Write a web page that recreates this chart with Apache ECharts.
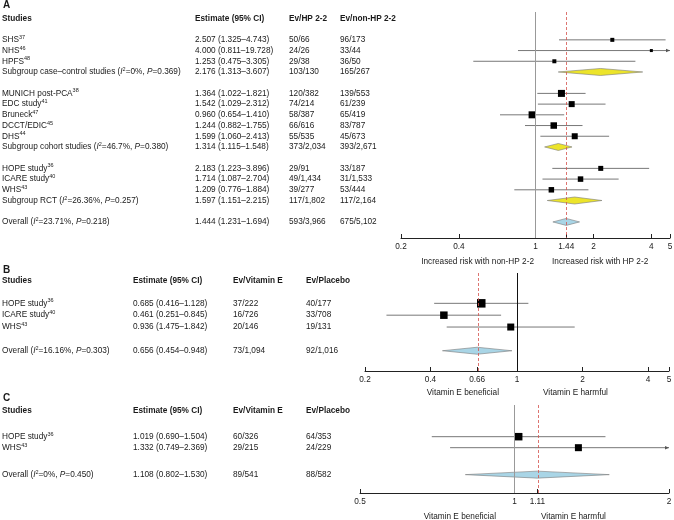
<!DOCTYPE html>
<html>
<head>
<meta charset="utf-8">
<script src="https://cdn.jsdelivr.net/npm/echarts@6/dist/echarts.min.js"></script>
<style>
  html, body { margin: 0; padding: 0; background: #fff; }
  #main { width: 674px; height: 520px; }
</style>
</head>
<body>
<div id="main"></div>
<script>
// ---------- 数据 A: HP 2-2 vs non-HP 2-2 ----------
var studiesA = ['SHS', 'NHS', 'HPFS', 'MUNICH post-PCA', 'EDC study', 'Bruneck', 'DCCT/EDIC', 'DHS', 'HOPE study', 'ICARE study', 'WHS'];
var refsA = ['37', '46', '48', '38', '41', '47', '45', '44', '36', '40', '43'];
var estA = [2.507, 4.000, 1.253, 1.364, 1.542, 0.960, 1.244, 1.599, 2.183, 1.714, 1.209];
var lowA = [1.325, 0.811, 0.475, 1.022, 1.029, 0.654, 0.882, 1.060, 1.223, 1.087, 0.776];
var highA = [4.743, 19.728, 3.305, 1.821, 2.312, 1.410, 1.755, 2.413, 3.896, 2.704, 1.884];
var evHpA = ['50/66', '24/26', '29/38', '120/382', '74/214', '58/387', '66/616', '55/535', '29/91', '49/1,434', '39/277'];
var evNonA = ['96/173', '33/44', '36/50', '139/553', '61/239', '65/419', '83/787', '45/673', '33/187', '31/1,533', '53/444'];
var groupsA = ['Subgroup case\u2013control studies', 'Subgroup cohort studies', 'Subgroup RCT', 'Overall'];
var groupI2A = ['0%', '46.7%', '26.36%', '23.71%'];
var groupPA = ['0.369', '0.380', '0.257', '0.218'];
var groupEstA = [2.176, 1.314, 1.597, 1.444];
var groupLowA = [1.313, 1.115, 1.151, 1.231];
var groupHighA = [3.607, 1.548, 2.215, 1.694];
var groupEvHpA = ['103/130', '373/2,034', '117/1,802', '593/3,966'];
var groupEvNonA = ['165/267', '393/2,671', '117/2,164', '675/5,102'];
var ticksA = [0.2, 0.4, 1, 1.444, 2, 4, 5];

// ---------- 数据 B: Vitamin E vs placebo (HP 2-2) ----------
var studiesB = ['HOPE study', 'ICARE study', 'WHS'];
var refsB = ['36', '40', '43'];
var estB = [0.685, 0.461, 0.936];
var lowB = [0.416, 0.251, 0.475];
var lowPrintedB = [0.416, 0.251, 1.475]; // 表格里印的数字（原图如此）
var highB = [1.128, 0.845, 1.842];
var evVitB = ['37/222', '16/726', '20/146'];
var evPlaB = ['40/177', '33/708', '19/131'];
var groupsB = ['Overall'];
var groupI2B = ['16.16%'];
var groupPB = ['0.303'];
var groupEstB = [0.656];
var groupLowB = [0.454];
var groupHighB = [0.948];
var groupEvVitB = ['73/1,094'];
var groupEvPlaB = ['92/1,016'];
var ticksB = [0.2, 0.4, 0.656, 1, 2, 4, 5];

// ---------- 数据 C: Vitamin E vs placebo (non-HP 2-2) ----------
var studiesC = ['HOPE study', 'WHS'];
var refsC = ['36', '43'];
var estC = [1.019, 1.332];
var lowC = [0.690, 0.749];
var highC = [1.504, 2.369];
var evVitC = ['60/326', '29/215'];
var evPlaC = ['64/353', '24/229'];
var groupsC = ['Overall'];
var groupI2C = ['0%'];
var groupPC = ['0.450'];
var groupEstC = [1.108];
var groupLowC = [0.802];
var groupHighC = [1.530];
var groupEvVitC = ['89/541'];
var groupEvPlaC = ['88/582'];
var ticksC = [0.5, 1, 1.108, 2];

// ---------- 样式 / 布局 ----------
var FONT = '"Liberation Sans", Arial, sans-serif';
var FS = 8.25;
var TXT = '#1a1a1a';
var boxSizeA = [4, 3, 4, 7, 6, 7, 6.5, 6, 5, 5.5, 5.5];
var boxSizeB = [8.5, 7.5, 7];
var boxSizeC = [7.5, 7];

var rich = {
  s: { fontSize: 5.5, fontFamily: FONT, fill: TXT, padding: [0, 0, 5, 0] },
  i: { fontSize: FS, fontFamily: FONT, fill: TXT, fontStyle: 'italic' }
};

var panels = [
  {
    letter: 'A', top: 12, height: 226, yMin: -2.6, yMax: 18.5, left: 401, right: 4,
    min: 0.2, max: 5, ticks: ticksA, refColor: '#999',
    rows: [0, 1, 2, 5, 6, 7, 8, 9, 12, 13, 14], groupRows: [3, 10, 15, 17],
    headRow: -2, letterRow: -3.2, cols: [2, 195, 289, 340],
    heads: ['Studies', 'Estimate (95% CI)', 'Ev/HP 2-2', 'Ev/non-HP 2-2'],
    names: studiesA, refs: refsA, est: estA, low: lowA, lowText: lowA, high: highA, ev1: evHpA, ev2: evNonA, box: boxSizeA,
    gNames: groupsA, gI2: groupI2A, gP: groupPA, gEst: groupEstA, gLow: groupLowA, gHigh: groupHighA, gEv1: groupEvHpA, gEv2: groupEvNonA,
    subs: [['Increased risk with non-HP 2-2', 534, 262, 'right'], ['Increased risk with HP 2-2', 552, 262, 'left']]
  },
  {
    letter: 'B', top: 273, height: 98, yMin: -2.56, yMax: 5.71, left: 365, right: 5,
    min: 0.2, max: 5, ticks: ticksB, refColor: '#111',
    rows: [0, 1, 2], groupRows: [4],
    headRow: -1.89, letterRow: -2.75, cols: [2, 133, 233, 306],
    heads: ['Studies', 'Estimate (95% CI)', 'Ev/Vitamin E', 'Ev/Placebo'],
    names: studiesB, refs: refsB, est: estB, low: lowB, lowText: lowPrintedB, high: highB, ev1: evVitB, ev2: evPlaB, box: boxSizeB,
    gNames: groupsB, gI2: groupI2B, gP: groupPB, gEst: groupEstB, gLow: groupLowB, gHigh: groupHighB, gEv1: groupEvVitB, gEv2: groupEvPlaB,
    subs: [['Vitamin E beneficial', 499, 393, 'right'], ['Vitamin E harmful', 543, 393, 'left']]
  },
  {
    letter: 'C', top: 405, height: 88, yMin: -2.88, yMax: 5.12, left: 360, right: 5,
    min: 0.5, max: 2, ticks: ticksC, refColor: '#999',
    rows: [0, 1], groupRows: [3.45],
    headRow: -2.4, letterRow: -3.5, cols: [2, 133, 233, 306],
    heads: ['Studies', 'Estimate (95% CI)', 'Ev/Vitamin E', 'Ev/Placebo'],
    names: studiesC, refs: refsC, est: estC, low: lowC, lowText: lowC, high: highC, ev1: evVitC, ev2: evPlaC, box: boxSizeC,
    gNames: groupsC, gI2: groupI2C, gP: groupPC, gEst: groupEstC, gLow: groupLowC, gHigh: groupHighC, gEv1: groupEvVitC, gEv2: groupEvPlaC,
    subs: [['Vitamin E beneficial', 496, 517, 'right'], ['Vitamin E harmful', 541, 517, 'left']]
  }
];

function f3(v) { return v.toFixed(3); }
function ciText(e, l, h) { return f3(e) + ' (' + f3(l) + '\u2013' + f3(h) + ')'; }

// 文字表格（自定义系列画文字）
function textSeries(gridIdx, items) {
  return {
    type: 'custom',
    xAxisIndex: gridIdx, yAxisIndex: gridIdx,
    silent: true,
    data: items.map(function (d) { return [d.x, d.row]; }),
    renderItem: function (params, api) {
      var it = items[params.dataIndex];
      var p = api.coord([api.value(0), api.value(1)]);
      return {
        type: 'text', x: p[0], y: p[1],
        style: {
          text: it.text, fontSize: it.size || FS, fontFamily: FONT,
          fontWeight: it.bold ? 'bold' : 'normal', fill: TXT,
          align: 'left', verticalAlign: 'middle', rich: rich
        }
      };
    }
  };
}

var grids = [], xAxes = [], yAxes = [], series = [], graphics = [];

panels.forEach(function (pn, k) {
  var tIdx = k * 2, pIdx = k * 2 + 1;
  // 表格网格
  grids.push({ left: 0, right: 0, top: pn.top, height: pn.height, outerBoundsMode: 'none' });
  xAxes.push({ gridIndex: tIdx, type: 'value', min: 0, max: 674, show: false });
  yAxes.push({ gridIndex: tIdx, type: 'value', min: pn.yMin, max: pn.yMax, inverse: true, show: false });
  // 森林图网格
  grids.push({ left: pn.left, right: pn.right, top: pn.top, height: pn.height, outerBoundsMode: 'none' });
  xAxes.push({
    gridIndex: pIdx, type: 'log', min: pn.min, max: pn.max, position: 'bottom',
    axisLine: { show: true, onZero: false, lineStyle: { color: '#222', width: 1 } },
    axisTick: { show: true, inside: true, length: 4, customValues: pn.ticks, lineStyle: { color: '#222' } },
    axisLabel: {
      customValues: pn.ticks, margin: 5, color: TXT, fontSize: FS, fontFamily: FONT,
      formatter: function (v) { return String(Number((+v).toFixed(2))); }
    },
    splitLine: { show: false }, minorTick: { show: false }
  });
  yAxes.push({ gridIndex: pIdx, type: 'value', min: pn.yMin, max: pn.yMax, inverse: true, show: false });

  // 文字
  var items = [];
  items.push({ x: 3, row: pn.letterRow, text: pn.letter, bold: true, size: 10 });
  pn.heads.forEach(function (h, j) { items.push({ x: pn.cols[j], row: pn.headRow, text: h, bold: true }); });
  pn.names.forEach(function (n, i) {
    var r = pn.rows[i];
    items.push({ x: pn.cols[0], row: r, text: n + '{s|' + pn.refs[i] + '}' });
    items.push({ x: pn.cols[1], row: r, text: ciText(pn.est[i], pn.lowText[i], pn.high[i]) });
    items.push({ x: pn.cols[2], row: r, text: pn.ev1[i] });
    items.push({ x: pn.cols[3], row: r, text: pn.ev2[i] });
  });
  pn.gNames.forEach(function (n, i) {
    var r = pn.groupRows[i];
    items.push({ x: pn.cols[0], row: r, text: n + ' ({i|I}{s|2}=' + pn.gI2[i] + ', {i|P}=' + pn.gP[i] + ')' });
    items.push({ x: pn.cols[1], row: r, text: ciText(pn.gEst[i], pn.gLow[i], pn.gHigh[i]) });
    items.push({ x: pn.cols[2], row: r, text: pn.gEv1[i] });
    items.push({ x: pn.cols[3], row: r, text: pn.gEv2[i] });
  });
  series.push(textSeries(tIdx, items));

  // 汇总菱形 + 参考线
  var overallIdx = pn.gNames.length - 1;
  series.push({
    type: 'custom', xAxisIndex: pIdx, yAxisIndex: pIdx, silent: true,
    data: pn.gNames.map(function (n, i) { return [pn.gEst[i], pn.groupRows[i], pn.gLow[i], pn.gHigh[i], i === overallIdx ? 1 : 0]; }),
    renderItem: function (params, api) {
      var row = api.value(1);
      var pE = api.coord([api.value(0), row]);
      var pL = api.coord([api.value(2), row]);
      var pH = api.coord([api.value(3), row]);
      var h = 3.5;
      return {
        type: 'polygon',
        shape: { points: [[pL[0], pE[1]], [pE[0], pE[1] - h], [pH[0], pE[1]], [pE[0], pE[1] + h]] },
        style: { fill: api.value(4) ? '#a9d5e6' : '#ece42a', stroke: '#7a7a7a', lineWidth: 0.6 }
      };
    },
    markLine: {
      silent: true, symbol: ['none', 'none'], label: { show: false },
      data: [
        { xAxis: 1, lineStyle: { color: pn.refColor, type: 'solid', width: 1 } },
        { xAxis: pn.gEst[overallIdx], lineStyle: { color: '#d4524c', type: [3, 2], width: 0.8 } }
      ]
    }
  });

  // 各研究：置信区间线 + 方块
  series.push({
    type: 'custom', xAxisIndex: pIdx, yAxisIndex: pIdx, silent: true,
    data: pn.names.map(function (n, i) { return [pn.est[i], pn.rows[i], pn.low[i], pn.high[i], pn.box[i]]; }),
    renderItem: function (params, api) {
      var est = api.value(0), row = api.value(1), lo = api.value(2), hi = api.value(3), sz = api.value(4);
      var pL = api.coord([Math.max(lo, pn.min), row]);
      var pH = api.coord([Math.min(hi, pn.max), row]);
      var pE = api.coord([est, row]);
      var kids = [{
        type: 'line', shape: { x1: pL[0], y1: pL[1], x2: pH[0], y2: pH[1] },
        style: { stroke: '#555', lineWidth: 0.8 }
      }];
      if (hi > pn.max) {
        kids.push({
          type: 'polygon',
          shape: { points: [[pH[0], pH[1]], [pH[0] - 4, pH[1] - 1.8], [pH[0] - 4, pH[1] + 1.8]] },
          style: { fill: '#555' }
        });
      }
      kids.push({
        type: 'rect', shape: { x: pE[0] - sz / 2, y: pE[1] - sz / 2, width: sz, height: sz },
        style: { fill: '#000' }
      });
      return { type: 'group', children: kids };
    }
  });

  // 轴下方说明
  pn.subs.forEach(function (s) {
    graphics.push({
      type: 'text', x: s[1], y: s[2], silent: true,
      style: { text: s[0], align: s[3], verticalAlign: 'middle', fontSize: FS, fontFamily: FONT, fill: TXT }
    });
  });
});

var chart = echarts.init(document.getElementById('main'), null, { renderer: 'canvas' });
chart.setOption({
  backgroundColor: '#ffffff',
  animation: false,
  grid: grids,
  xAxis: xAxes,
  yAxis: yAxes,
  series: series,
  graphic: graphics
});
</script>
</body>
</html>
